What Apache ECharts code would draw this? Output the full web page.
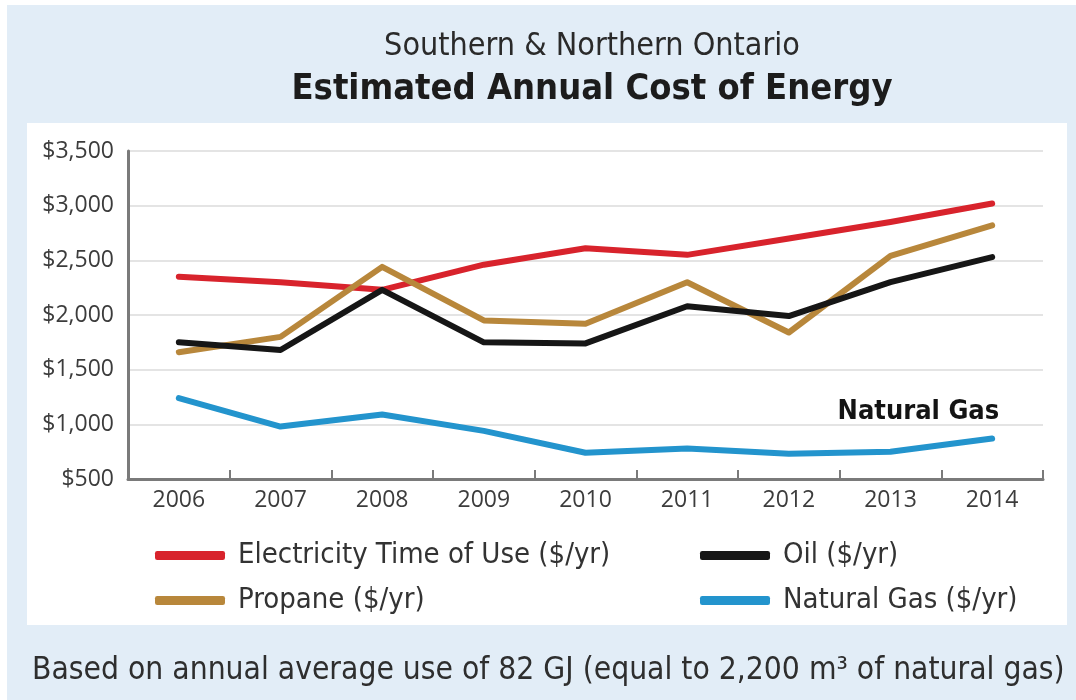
<!DOCTYPE html>
<html>
<head>
<meta charset="utf-8">
<script src="https://cdn.jsdelivr.net/npm/echarts@6/dist/echarts.min.js"></script>
<style>
  html, body { margin: 0; padding: 0; background: #ffffff; }
  #chart { width: 1076px; height: 700px; }
</style>
</head>
<body>
<div id="chart"></div>
<script>
// Annual energy cost estimates, Southern & Northern Ontario
const years = ['2006', '2007', '2008', '2009', '2010', '2011', '2012', '2013', '2014'];
const electricity = [2350, 2300, 2230, 2460, 2610, 2550, 2700, 2850, 3020];
const oil         = [1750, 1680, 2230, 1750, 1740, 2080, 1990, 2300, 2530];
const propane     = [1660, 1800, 2440, 1950, 1920, 2300, 1840, 2540, 2820];
const naturalGas  = [1240, 980, 1090, 940, 740, 780, 730, 750, 870];
const yTicks = [500, 1000, 1500, 2000, 2500, 3000, 3500];

const seriesNames = {
  electricity: 'Electricity Time of Use ($/yr)',
  oil: 'Oil ($/yr)',
  propane: 'Propane ($/yr)',
  gas: 'Natural Gas ($/yr)'
};
const colors = {
  electricity: '#d8232c',
  oil: '#161616',
  propane: '#b8873b',
  gas: '#2394cd'
};

const narrow = "'Liberation Sans Narrow', 'DejaVu Sans Condensed', 'Roboto Condensed', sans-serif";
const axisFont = "'Open Sans', 'DejaVu Sans', sans-serif";

function lineSeries(name, data, color, extra) {
  return Object.assign({
    name: name,
    type: 'line',
    data: data,
    symbol: 'none',
    smooth: false,
    lineStyle: { width: 6, color: color, cap: 'round', join: 'round' },
    itemStyle: { color: color }
  }, extra || {});
}

// last Natural Gas point carries the inline series label
const gasData = naturalGas.map(function (v, i) {
  if (i !== naturalGas.length - 1) return v;
  return {
    value: v,
    symbol: 'circle',
    symbolSize: 1,
    label: {
      show: true,
      formatter: 'Natural Gas',
      position: 'top',
      align: 'right',
      distance: 13,
      offset: [7, 0],
      fontFamily: narrow,
      fontWeight: 'bold',
      fontSize: 27,
      color: '#141414'
    }
  };
});

const legendText = { fontFamily: narrow, fontSize: 29, color: '#333', lineHeight: 28, padding: [0, 0, 0, 8] };

const chart = echarts.init(document.getElementById('chart'), null, { renderer: 'canvas' });

chart.setOption({
  backgroundColor: '#ffffff',
  animation: false,
  graphic: [
    { type: 'rect', z: -10, shape: { x: 7, y: 5, width: 1069, height: 695 },
      style: { fill: '#e2edf7' } },
    { type: 'rect', z: -9, shape: { x: 27, y: 123, width: 1040, height: 502 },
      style: { fill: '#ffffff' } }
  ],
  title: [
    {
      text: 'Southern & Northern Ontario',
      left: 587, top: 26, textAlign: 'center',
      textStyle: { fontFamily: narrow, fontWeight: 'normal', fontSize: 32, color: '#2a2a2a' }
    },
    {
      text: 'Estimated Annual Cost of Energy',
      left: 587, top: 67, textAlign: 'center',
      textStyle: { fontFamily: narrow, fontWeight: 'bold', fontSize: 36, color: '#1c1c1c' }
    },
    {
      text: 'Based on annual average use of 82 GJ (equal to 2,200 m\u00b3 of natural gas)',
      left: 27, top: 650,
      textStyle: { fontFamily: narrow, fontWeight: 'normal', fontSize: 31.5, color: '#2e2e2e' }
    }
  ],
  legend: [
    {
      data: [seriesNames.electricity, seriesNames.propane],
      orient: 'vertical',
      left: 150, top: 536,
      itemWidth: 70, itemHeight: 9, itemGap: 16,
      icon: 'roundRect',
      textStyle: legendText
    },
    {
      data: [seriesNames.oil, seriesNames.gas],
      orient: 'vertical',
      left: 695, top: 536,
      itemWidth: 70, itemHeight: 9, itemGap: 16,
      icon: 'roundRect',
      textStyle: legendText
    }
  ],
  grid: { left: 128, right: 33, top: 151, bottom: 221, containLabel: false },
  xAxis: {
    type: 'category',
    data: years,
    boundaryGap: true,
    axisLine: { show: true, lineStyle: { color: '#7a7a7a', width: 3 } },
    axisTick: { show: true, inside: true, length: 9, alignWithLabel: false,
      lineStyle: { color: '#7a7a7a', width: 2 } },
    axisLabel: { margin: 10, fontFamily: axisFont, fontSize: 23, color: '#3c3c3c' },
    splitLine: { show: false }
  },
  yAxis: {
    type: 'value',
    min: yTicks[0],
    max: yTicks[yTicks.length - 1],
    interval: 500,
    axisLine: { show: true, lineStyle: { color: '#7a7a7a', width: 3 } },
    axisTick: { show: false },
    axisLabel: {
      margin: 14, fontFamily: axisFont, fontSize: 23, color: '#3c3c3c',
      formatter: function (v) { return '$' + v.toLocaleString('en-US'); }
    },
    splitLine: { show: true, lineStyle: { color: '#e4e4e4', width: 2 } }
  },
  series: [
    lineSeries(seriesNames.electricity, electricity, colors.electricity),
    lineSeries(seriesNames.propane, propane, colors.propane),
    lineSeries(seriesNames.oil, oil, colors.oil),
    lineSeries(seriesNames.gas, gasData, colors.gas)
  ]
});
</script>
</body>
</html>
